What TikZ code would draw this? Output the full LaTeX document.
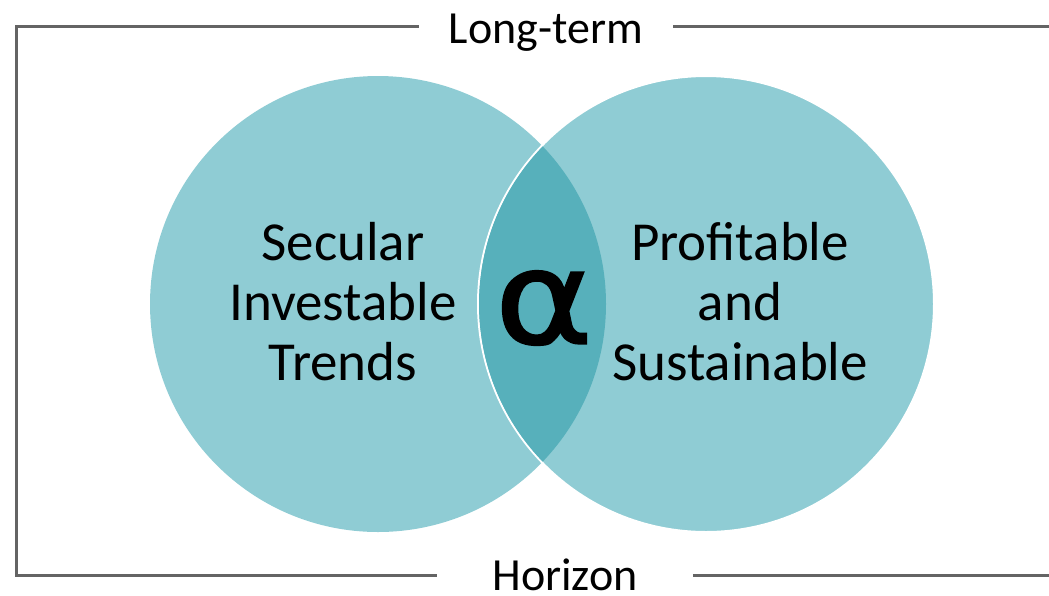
\documentclass[tikz,border=0pt]{standalone}
\usepackage{fontspec}
\setmainfont{Carlito}
\newfontfamily\symfont[FakeBold=1.5]{DejaVu Sans}
\definecolor{lightteal}{RGB}{143,204,212}
\definecolor{darkteal}{RGB}{87,176,187}
\definecolor{framegray}{RGB}{100,100,100}
\begin{document}
\begin{tikzpicture}[x=1pt,y=-1pt,
  ring/.style={circle, minimum size=456pt, inner sep=0pt, fill=lightteal},
  blocktext/.style={font=\fontsize{55}{60}\selectfont, align=center, inner sep=0pt, anchor=base},
  edge/.style={draw=framegray, line width=2.5pt},
  caption/.style={font=\fontsize{46}{50}\selectfont, inner ysep=0pt, anchor=base}]
\useasboundingbox (0,0) rectangle (1049,595);

% the two overlapping circles and their shared lens
\node[ring] (left) at (378,304) {};
\node[ring, draw=white, line width=2pt] (right) at (706,304) {};
\begin{scope}
  \clip (left.center) circle (228pt);
  \fill[darkteal] (right.center) circle (227pt);
\end{scope}

% circle labels (base anchor sits on the last line)
\node[blocktext] (trends) at (343,380) {Secular\\Investable\\Trends};
\node[blocktext] (profit) at (740,380) {Profitable\\and\\Sustainable};
\node[font=\symfont\fontsize{130}{130}\selectfont, inner sep=0pt] (alpha) at (544,308) {\scalebox{1.15}[1]{α}};

% frame with its two captions
\node[caption, inner xsep=30pt] (top) at (546,43) {Long-term};
\node[caption, inner xsep=55pt] (bottom) at (565,590) {Horizon};
\coordinate (tl) at (16.5,26.5);
\coordinate (bl) at (16.5,575.5);
\coordinate (tr) at (1049,26.5);
\coordinate (br) at (1049,575.5);
\draw[edge] (top.west |- tl) -- (tl) -- (bl) -- (bottom.west |- bl);
\draw[edge] (top.east |- tr) -- (tr);
\draw[edge] (bottom.east |- br) -- (br);
\end{tikzpicture}
\end{document}
